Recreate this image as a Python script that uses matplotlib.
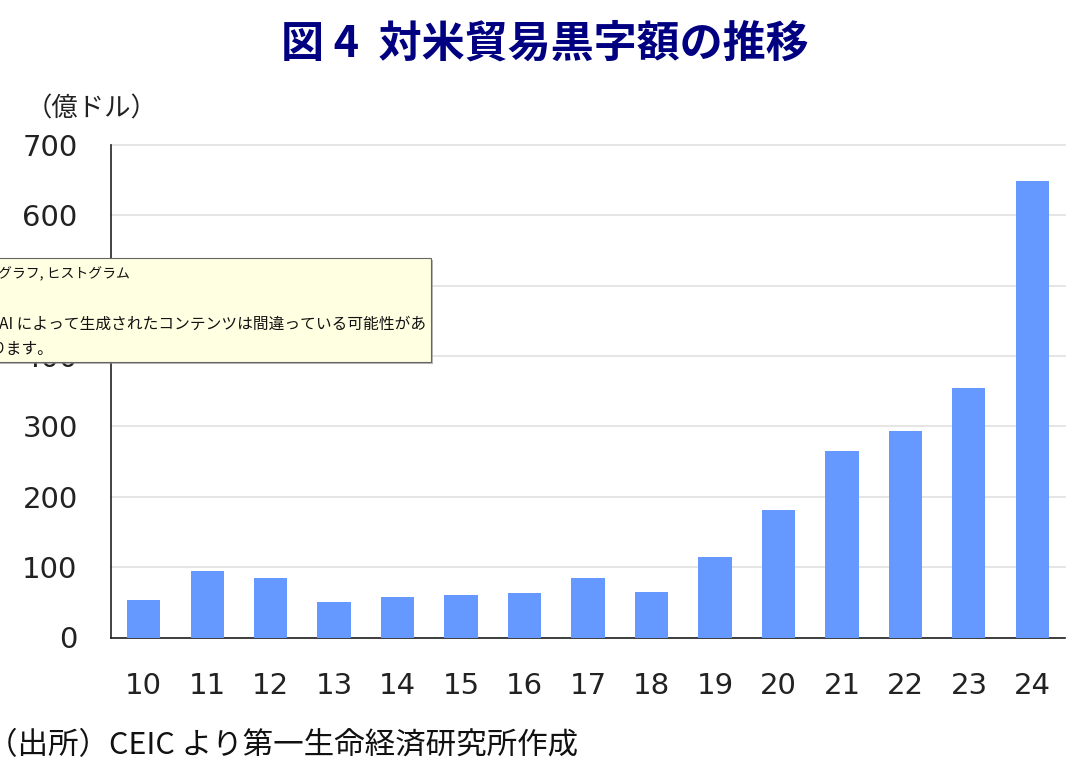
import matplotlib
matplotlib.use("Agg")
import matplotlib.pyplot as plt
from matplotlib.patches import Rectangle

plt.rcParams['font.family'] = ['Noto Sans CJK JP', 'DejaVu Sans']

W, H = 1072, 772

years = ["10", "11", "12", "13", "14", "15", "16", "17", "18", "19", "20", "21", "22", "23", "24"]
surplus = [54, 95, 84, 50, 58, 61, 63, 84, 65, 114, 181, 265, 294, 355, 649]
y_ticks = [0, 100, 200, 300, 400, 500, 600, 700]

title = "図 4  対米貿易黒字額の推移"
unit = "（億ドル）"
source = "（出所）CEIC より第一生命経済研究所作成"
tip_lines = ["グラフ, ヒストグラム", "AI によって生成されたコンテンツは間違っている可能性があ", "ります。"]

fig = plt.figure(figsize=(W / 100, H / 100), dpi=100)
ax = fig.add_axes([111 / W, 1 - 637.5 / H, (1065 - 111) / W, (637.5 - 145) / H])

ax.bar(range(len(years)), surplus, width=0.52, color="#6699ff", zorder=3)
ax.set_xlim(-0.512, 14.512)
ax.set_ylim(0, 700)
ax.set_yticks(y_ticks)
ax.set_xticks(range(len(years)))
ax.set_xticklabels(years, family="DejaVu Sans")
ax.set_yticklabels([str(v) for v in y_ticks], family="DejaVu Sans")
ax.tick_params(axis="both", length=0, labelsize=21, colors="#222222")
ax.tick_params(axis="x", pad=25)
ax.tick_params(axis="y", pad=24)
ax.grid(axis="y", color="#e0e0e0", lw=1.2, zorder=0, clip_on=False)
ax.set_axisbelow(True)
for s in ["top", "right"]:
    ax.spines[s].set_visible(False)
for s in ["left", "bottom"]:
    ax.spines[s].set_color("#222222")
    ax.spines[s].set_linewidth(1.2)

fig.text(545 / W, 1 - 44 / H, title, ha="center", va="center", fontsize=31,
         fontweight="bold", color="#000080")
fig.text(92 / W, 1 - 109 / H, unit, ha="center", va="center", fontsize=19, color="#222222")
fig.text(-13 / W, 1 - 746 / H, source, ha="left", va="center", fontsize=22, color="#111111")

# tooltip box over the chart
box = Rectangle((-10 / W, 1 - 362 / H), 441 / W, 104 / H, transform=fig.transFigure,
                facecolor="#ffffe1", edgecolor="#666666", lw=0.8, zorder=10)
shadow = Rectangle((-8 / W, 1 - 364 / H), 441 / W, 104 / H, transform=fig.transFigure,
                   facecolor="#888888", edgecolor="none", alpha=0.6, zorder=9)
fig.add_artist(shadow)
fig.add_artist(box)
fig.text(-2 / W, 1 - 274 / H, tip_lines[0], ha="left", va="center", fontsize=10, zorder=11, color="#111111")
fig.text(-1 / W, 1 - 324 / H, tip_lines[1], ha="left", va="center", fontsize=11.3, zorder=11, color="#111111")
fig.text(-9 / W, 1 - 349 / H, tip_lines[2], ha="left", va="center", fontsize=11.3, zorder=11, color="#111111")

fig.savefig("out.png", dpi=100)
